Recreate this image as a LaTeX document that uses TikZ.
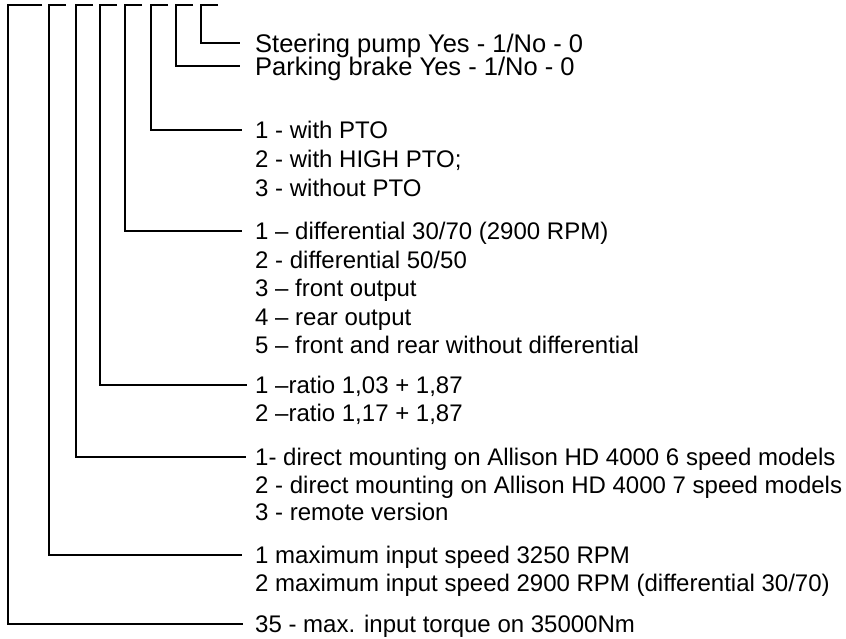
\documentclass[tikz,border=0pt]{standalone}
\usepackage{fontspec}
\setmainfont{Liberation Sans}
\begin{document}
\begin{tikzpicture}[x=1pt,y=1pt,
  wire/.style={line width=1.8pt, black},
  lbl/.style={anchor=west, inner sep=0pt, text height=17.2pt, text depth=0pt,
    font=\fontsize{24}{28}\selectfont},
  big/.style={anchor=west, inner sep=0pt, text height=18.2pt, text depth=0pt,
    font=\fontsize{25.5}{30}\selectfont}]
\useasboundingbox (0,0) rectangle (846,-639);
% texts
\node[big] (sp) at (255,-43) {Steering pump Yes - 1/No - 0};
\node[big] (pb) at (255,-66) {Parking brake Yes - 1/No - 0};
\node[lbl] (pto1) at (255,-130) {1 - with PTO};
\node[lbl] (pto2) at ([yshift=-29pt]pto1.west) {2 - with HIGH PTO;};
\node[lbl] (pto3) at ([yshift=-29pt]pto2.west) {3 - without PTO};
\node[lbl] (d1) at (255,-231) {1 – differential 30/70 (2900 RPM)};
\node[lbl] (d2) at ([yshift=-28.5pt]d1.west) {2 - differential 50/50};
\node[lbl] (d3) at ([yshift=-28.5pt]d2.west) {3 – front output};
\node[lbl] (d4) at ([yshift=-28.5pt]d3.west) {4 – rear output};
\node[lbl] (d5) at ([yshift=-28.5pt]d4.west) {5 – front and rear without differential};
\node[lbl] (r1) at (255,-385) {1 –ratio 1,03 + 1,87};
\node[lbl] (r2) at ([yshift=-28pt]r1.west) {2 –ratio 1,17 + 1,87};
\node[lbl] (m1) at (255,-457) {1- direct mounting on Allison HD 4000 6 speed models};
\node[lbl] (m2) at ([yshift=-27.5pt]m1.west) {2 - direct mounting on Allison HD 4000 7 speed models};
\node[lbl] (m3) at ([yshift=-27.5pt]m2.west) {3 - remote version};
\node[lbl] (s1) at (255,-555) {1 maximum input speed 3250 RPM};
\node[lbl] (s2) at ([yshift=-27.5pt]s1.west) {2 maximum input speed 2900 RPM (differential 30/70)};
\node[lbl] (tq) at (255,-624) {35 - max. input torque on 35000Nm};
% top corners
\coordinate (v1) at (8,-5);
\coordinate (v2) at (49,-5);
\coordinate (v3) at (76,-5);
\coordinate (v4) at (100,-5);
\coordinate (v5) at (125,-5);
\coordinate (v6) at (151,-5);
\coordinate (v7) at (176,-5);
\coordinate (v8) at (201,-5);
% connectors
\draw[wire] ([xshift=17pt]v8) -- (v8) |- ([xshift=-15pt]sp.west);
\draw[wire] ([xshift=17pt]v7) -- (v7) |- ([xshift=-15pt]pb.west);
\draw[wire] ([xshift=17pt]v6) -- (v6) |- ([xshift=-13pt]pto1.west);
\draw[wire] ([xshift=17pt]v5) -- (v5) |- ([xshift=-13pt]d1.west);
\draw[wire] ([xshift=17pt]v4) -- (v4) |- ([xshift=-8pt]r1.west);
\draw[wire] ([xshift=17pt]v3) -- (v3) |- ([xshift=-9pt]m1.west);
\draw[wire] ([xshift=17pt]v2) -- (v2) |- ([xshift=-13pt]s1.west);
\draw[wire] ([xshift=34pt]v1) -- (v1) |- ([xshift=-12pt]tq.west);
\end{tikzpicture}
\end{document}
